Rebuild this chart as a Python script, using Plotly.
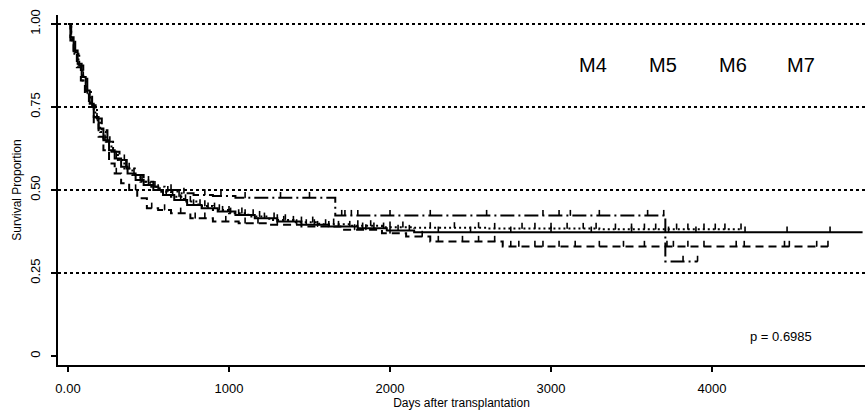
import numpy as np
import plotly.graph_objects as go

# ---- data (days, survival proportion) ----
solid_t = [0, 15, 35, 60, 85, 110, 135, 160, 190, 220, 255, 290, 330, 370, 420, 470, 530, 590, 660, 740, 830, 930, 1040, 1160, 1300, 1450, 1620, 1800, 1980, 2150]
solid_s = [1.0, 0.96, 0.92, 0.88, 0.84, 0.80, 0.76, 0.72, 0.685, 0.65, 0.62, 0.595, 0.57, 0.55, 0.53, 0.515, 0.50, 0.485, 0.47, 0.455, 0.445, 0.435, 0.425, 0.415, 0.405, 0.395, 0.39, 0.385, 0.378, 0.373]
solid_end = 4935
solid_cens = [95, 150, 230, 300, 360, 410, 450, 500, 560, 610, 650, 700, 730, 780, 820, 870, 910, 960, 1000, 1060, 1100, 1150, 1220, 1280, 1340, 1400, 1480, 1530, 1600, 1680, 1750, 1830, 1900, 1960, 2050, 2120, 2300, 2500, 2750, 3000, 3250, 3500, 3730, 3900, 4205, 4466, 4733]

dot_t = [0, 20, 40, 65, 90, 115, 140, 170, 200, 235, 270, 310, 350, 400, 450, 510, 570, 640, 720, 810, 900, 1000, 1120, 1250, 1400, 1560, 1750, 1950, 2150, 2600, 3300]
dot_s = [1.0, 0.95, 0.91, 0.87, 0.83, 0.79, 0.75, 0.71, 0.675, 0.645, 0.615, 0.59, 0.565, 0.545, 0.525, 0.51, 0.495, 0.48, 0.465, 0.452, 0.44, 0.43, 0.42, 0.41, 0.403, 0.397, 0.392, 0.388, 0.386, 0.384, 0.382]
dot_end = 4180
dot_cens = [120, 260, 380, 460, 540, 620, 690, 760, 850, 940, 1010, 1080, 1190, 1300, 1350, 1450, 1520, 1650, 1800, 1880, 2000, 2080, 2250, 2400, 2550, 2650, 2820, 2900, 3000, 3100, 3200, 3280, 3400, 3500, 3580, 3650, 3780, 3850, 3950, 4020, 4080, 4180]

dash_t = [0, 15, 35, 55, 80, 105, 130, 160, 190, 220, 255, 290, 330, 380, 430, 490, 560, 640, 760, 900, 1060, 1250, 1450, 1700, 1950, 2100, 2250, 2700]
dash_s = [1.0, 0.95, 0.91, 0.87, 0.83, 0.79, 0.75, 0.70, 0.66, 0.62, 0.58, 0.55, 0.52, 0.50, 0.475, 0.445, 0.44, 0.43, 0.415, 0.405, 0.40, 0.395, 0.39, 0.38, 0.37, 0.36, 0.345, 0.33]
dash_end = 4720
dash_cens = [300, 420, 520, 600, 700, 790, 850, 980, 1100, 1180, 1300, 1420, 1550, 1620, 1780, 1850, 2000, 2200, 2300, 2450, 2550, 2650, 2750, 2800, 2900, 2950, 3050, 3150, 3300, 3450, 3580, 3720, 3760, 3850, 3950, 4150, 4200, 4450, 4480, 4650, 4720]

dd_t = [0, 20, 45, 70, 95, 120, 150, 180, 210, 245, 280, 320, 365, 415, 470, 530, 600, 680, 780, 900, 1040, 1660, 3710]
dd_s = [1.0, 0.955, 0.915, 0.875, 0.835, 0.795, 0.755, 0.715, 0.68, 0.645, 0.615, 0.59, 0.565, 0.545, 0.525, 0.51, 0.50, 0.49, 0.485, 0.482, 0.477, 0.423, 0.285]
dd_end = 3910
dd_cens = [180, 350, 500, 640, 720, 850, 950, 1100, 1320, 1500, 1700, 1720, 1760, 1800, 2000, 2250, 2600, 2950, 3050, 3120, 3300, 3600, 3700, 3820, 3910]

group_labels = ["M4", "M5", "M6", "M7"]
p_text = "p = 0.6985"
x_ticks = [0, 1000, 2000, 3000, 4000]
x_ticktext = ["0.00", "1000", "2000", "3000", "4000"]
y_ticks = [0, 0.25, 0.5, 0.75, 1.0]
y_ticktext = ["0", "0.25", "0.50", "0.75", "1.00"]
grid_levels = [0.25, 0.5, 0.75, 1.0]

FONT = "Liberation Sans, Arial, sans-serif"

fig = go.Figure()

curves = [
    (solid_t, solid_s, solid_end, solid_cens, "solid"),
    (dot_t, dot_s, dot_end, dot_cens, "2px,3px"),
    (dash_t, dash_s, dash_end, dash_cens, "8px,5px"),
    (dd_t, dd_s, dd_end, dd_cens, "14px,4px,2px,4px"),
]

for t, s, end, cens, dash in curves:
    xs = list(t) + [end]
    ys = list(s) + [s[-1]]
    fig.add_trace(go.Scatter(x=xs, y=ys, mode="lines", line=dict(shape="hv", color="black", width=2, dash=dash),
                             showlegend=False, hoverinfo="skip"))
    ta = np.array(t)
    sa = np.array(s)
    idx = np.searchsorted(ta, np.array(cens), side="right") - 1
    # censoring ticks drawn upward from the curve
    fig.add_trace(go.Scatter(x=cens, y=sa[idx], mode="markers",
                             marker=dict(size=1, color="black"),
                             error_y=dict(type="constant", value=0.017, valueminus=0, symmetric=False,
                                          thickness=1.6, width=0, color="black"),
                             showlegend=False, hoverinfo="skip"))

for g in grid_levels:
    fig.add_shape(type="line", xref="paper", x0=0, x1=1, yref="y", y0=g, y1=g,
                  line=dict(color="black", width=2, dash="3px,3px"), layer="below")

label_x = [3260, 3695, 4130, 4555]
for lab, lx in zip(group_labels, label_x):
    fig.add_annotation(x=lx, y=0.875, text=lab, showarrow=False, font=dict(family=FONT, size=20, color="black"))

fig.add_annotation(x=4430, y=0.06, text=p_text, showarrow=False, font=dict(family=FONT, size=13, color="black"))

fig.update_layout(
    width=865, height=414,
    margin=dict(l=58, r=0, t=15, b=49),
    plot_bgcolor="white", paper_bgcolor="white",
    font=dict(family=FONT, size=13, color="black"),
    xaxis=dict(range=[-62, 4950], showgrid=False, zeroline=False, showline=True, linecolor="black", linewidth=2,
               ticks="outside", ticklen=5, tickwidth=2, tickcolor="black",
               tickvals=x_ticks, ticktext=x_ticktext, tickfont=dict(size=13),
               ticklabelstandoff=5,
               title=dict(text="Days after transplantation", font=dict(size=12), standoff=2)),
    yaxis=dict(range=[-0.027, 1.027], showgrid=False, zeroline=False, showline=True, linecolor="black", linewidth=2,
               ticks="outside", ticklen=5, tickwidth=2, tickcolor="black",
               tickvals=y_ticks, ticktext=y_ticktext, tickangle=-90, tickfont=dict(size=13),
               ticklabelstandoff=6,
               title=dict(text="Survival Proportion", font=dict(size=12), standoff=4)),
)

fig.write_html("out.html")
